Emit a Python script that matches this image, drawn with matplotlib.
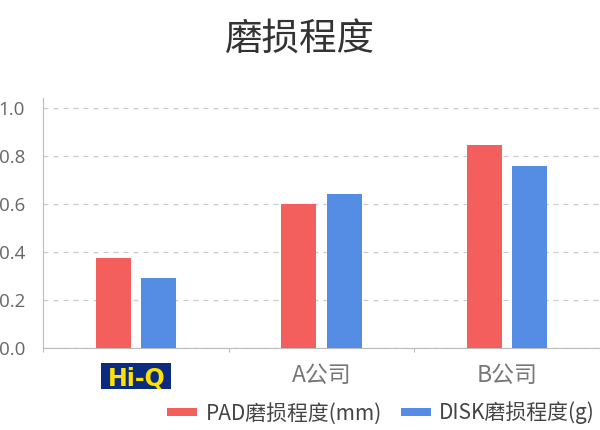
import matplotlib
matplotlib.use("Agg")
import matplotlib.pyplot as plt
from matplotlib.patches import Rectangle
import numpy as np

plt.rcParams['font.family'] = ['Noto Sans CJK SC', 'DejaVu Sans']

title = "磨损程度"
categories = ["Hi-Q", "A公司", "B公司"]
series_names = ["PAD磨损程度(mm)", "DISK磨损程度(g)"]
pad_values = [0.375, 0.60, 0.845]
disk_values = [0.29, 0.64, 0.76]
yticks = [0.0, 0.2, 0.4, 0.6, 0.8, 1.0]
colors = ["#F25F5C", "#558DE4"]

W, H = 600, 430
fig = plt.figure(figsize=(6, 4.3), dpi=100)
ax = fig.add_axes([43/W, (H-348)/H, 557/W, 250/H])

x = np.arange(len(categories))
w = 0.189
gap = 0.054
ax.bar(x - (w+gap)/2, pad_values, w, color=colors[0], label=series_names[0], zorder=3)
ax.bar(x + (w+gap)/2, disk_values, w, color=colors[1], label=series_names[1], zorder=3)

ax.set_xlim(-0.5, len(categories)-0.5)
ax.set_ylim(0, 1.042)
ax.set_yticks(yticks)
ax.set_yticklabels([f"{v:.1f}" for v in yticks], color="#666666", fontsize=13.5,
                   family=["Open Sans", "DejaVu Sans"])
ax.yaxis.grid(True, linestyle=(0, (4, 4)), color="#cccccc", linewidth=0.9, zorder=0)
ax.set_axisbelow(True)
for s in ["top", "right"]:
    ax.spines[s].set_visible(False)
ax.spines["left"].set_color("#bbbbbb")
ax.spines["bottom"].set_color("#bbbbbb")
ax.tick_params(axis="y", length=0, pad=13)
ax.set_xticks(np.arange(len(categories)+1) - 0.5, minor=False)
ax.set_xticklabels([])
ax.tick_params(axis="x", length=3, color="#bbbbbb")

for i, c in enumerate(categories):
    if c == "Hi-Q":
        xc = ax.transData.transform((i, 0))[0] / W
        bw, bh = 70/W, 26/H
        fig.patches.append(Rectangle((xc - bw/2 + 0.5/W, (H-389)/H), bw, bh,
                                     transform=fig.transFigure, fc="#0B2C7E", ec="none"))
        fig.text(xc + 0.5/W, (H-376)/H, c, ha="center", va="center_baseline",
                 fontsize=17, fontweight="bold", color="#FFE100", family="DejaVu Sans")
    else:
        ax.text(i, -(376-348)/250, c, transform=ax.get_xaxis_transform(), ha="center",
                va="center", fontsize=16.5, color="#777777")

fig.text(0.5, 1 - 40/H, title, ha="center", va="center", fontsize=27, color="#333333")

leg = fig.legend(loc="center", bbox_to_anchor=(381/W, 1 - 413/H), ncol=2, frameon=False,
                 fontsize=15, handlelength=1.45, handleheight=0.25, columnspacing=0.9,
                 handletextpad=0.4, labelcolor="#444444")

fig.savefig("out.png", dpi=100)
